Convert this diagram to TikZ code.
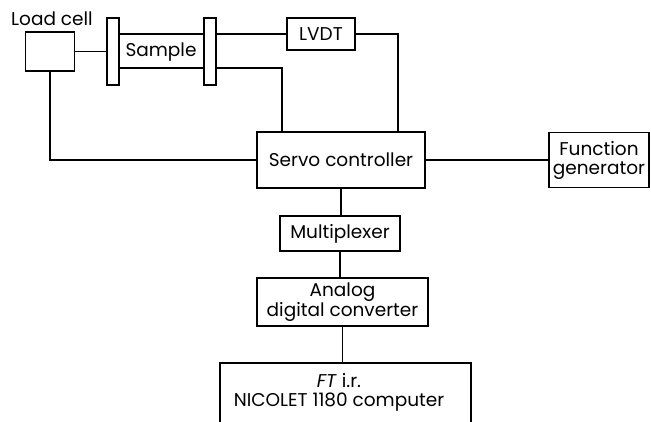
\documentclass[tikz,border=0pt]{standalone}
\usepackage{fontspec}
\setmainfont{Poppins}
\begin{document}
\begin{tikzpicture}[x=1pt,y=-1pt,
  box/.style={draw,line width=1.3pt,inner sep=0pt,align=center,font=\fontsize{18.5}{19}\selectfont},
  plate/.style={draw,line width=1.3pt,inner sep=0pt,minimum width=12pt,minimum height=67pt},
  wire/.style={line width=1.3pt},
  lbl/.style={inner sep=0pt,font=\fontsize{18.5}{19}\selectfont}]
\useasboundingbox (0,0) rectangle (651,421);
\node[box,minimum width=49pt,minimum height=39pt] (lc) at (50,51.5) {};
\node[lbl] (lctext) at (52,19) {Load cell};
\node[plate] (lp) at (113,51.5) {};
\node[plate] (rp) at (210,51.5) {};
\node[lbl] (sample) at (161,52) {Sample};
\coordinate (stop) at (0,34);
\coordinate (sbot) at (0,68);
\node[box,minimum width=68pt,minimum height=32pt] (lvdt) at (321,34) {LVDT};
\node[box,minimum width=168pt,minimum height=56pt] (servo) at (341,160) {Servo controller};
\node[box,minimum width=100pt,minimum height=55pt] (fg) at (599,160) {Function\\generator};
\node[box,minimum width=120pt,minimum height=35pt] (mux) at (340,233.5) {Multiplexer};
\node[box,minimum width=171pt,minimum height=48pt] (adc) at (342.5,302) {Analog\\digital converter};
\node[box,minimum width=251pt,minimum height=70pt] (nic) at (345.5,398) {};
\node[lbl] (ft) at (339,381) {\textit{FT} i.r.};
\node[lbl] (nictext) at (339,402) {NICOLET 1180 computer};
\coordinate (lvdtdrop) at (398,0);
\coordinate (sampdrop) at (282,0);
\draw[wire] (lc.east |- lp.west) -- (lp.west);
\draw[wire] (lp.east |- stop) -- (rp.west |- stop);
\draw[wire] (lp.east |- sbot) -- (rp.west |- sbot);
\draw[wire] (rp.east |- stop) -- (lvdt.west);
\draw[wire] (lvdt.east) -| (servo.north -| lvdtdrop);
\draw[wire] (rp.east |- sbot) -| (servo.north -| sampdrop);
\draw[wire] (lc.south) |- (servo.west);
\draw[wire] (servo.east) -- (fg.west);
\draw[wire] (servo.south) -- (mux.north -| servo.south);
\draw[wire] (mux.south) -- (adc.north -| mux.south);
\draw[wire] (adc.south) -- (nic.north -| adc.south);
\end{tikzpicture}
\end{document}
